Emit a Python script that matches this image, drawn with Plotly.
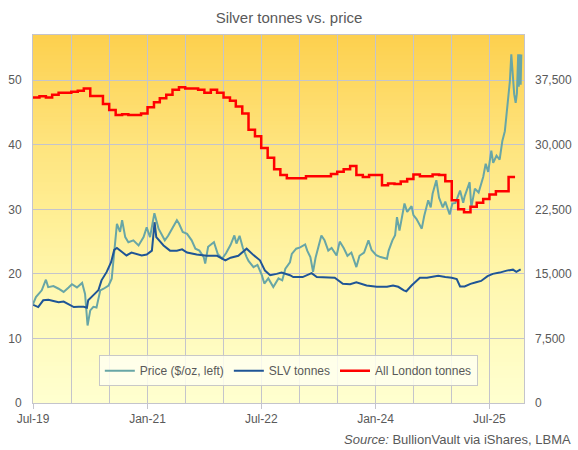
import plotly.graph_objects as go

# silver price, $/oz (left axis)
price_dates = [
    "2019-07-01", "2019-07-15", "2019-08-12", "2019-09-01", "2019-09-12", "2019-10-07",
    "2019-11-01", "2019-11-25", "2019-12-19", "2020-01-04", "2020-01-28", "2020-02-22",
    "2020-03-07", "2020-03-19", "2020-04-01", "2020-04-16", "2020-05-01", "2020-05-19",
    "2020-06-04", "2020-06-28", "2020-07-13", "2020-07-25", "2020-08-07", "2020-08-22",
    "2020-09-01", "2020-09-16", "2020-10-01", "2020-10-25", "2020-11-19", "2020-12-13",
    "2020-12-28", "2021-01-13", "2021-02-03", "2021-02-23", "2021-03-10", "2021-03-25",
    "2021-04-10", "2021-05-07", "2021-05-22", "2021-06-01", "2021-06-19", "2021-07-10",
    "2021-08-01", "2021-08-19", "2021-09-07", "2021-09-28", "2021-10-05", "2021-10-19",
    "2021-11-16", "2021-12-04", "2021-12-25", "2022-01-13", "2022-02-04", "2022-02-22",
    "2022-03-04", "2022-03-19", "2022-04-04", "2022-04-22", "2022-05-01", "2022-05-25",
    "2022-06-13", "2022-07-04", "2022-07-16", "2022-08-04", "2022-08-28", "2022-09-22",
    "2022-10-10", "2022-10-25", "2022-11-16", "2022-11-25", "2022-12-16", "2023-01-04",
    "2023-01-28", "2023-02-07", "2023-02-22", "2023-03-07", "2023-03-19", "2023-04-16",
    "2023-05-01", "2023-05-19", "2023-06-04", "2023-06-28", "2023-07-13", "2023-08-01",
    "2023-08-19", "2023-09-07", "2023-10-01", "2023-10-16", "2023-11-07", "2023-11-28",
    "2023-12-13", "2024-01-04", "2024-01-25", "2024-02-25", "2024-03-04", "2024-03-22",
    "2024-04-04", "2024-04-13", "2024-04-25", "2024-05-19", "2024-06-01", "2024-06-22",
    "2024-07-01", "2024-07-16", "2024-08-10", "2024-08-22", "2024-09-10", "2024-09-22",
    "2024-10-01", "2024-10-19", "2024-11-01", "2024-11-19", "2024-12-01", "2024-12-22",
    "2025-01-04", "2025-01-19", "2025-02-10", "2025-02-25", "2025-03-04", "2025-03-28",
    "2025-04-05", "2025-04-22", "2025-05-10", "2025-06-01", "2025-06-13", "2025-06-25",
    "2025-07-10", "2025-07-19", "2025-08-04", "2025-08-19", "2025-09-01", "2025-09-13",
    "2025-09-20", "2025-09-28", "2025-10-07", "2025-10-14", "2025-10-22", "2025-10-28",
    "2025-11-04", "2025-11-10", "2025-11-16", "2025-11-19", "2025-11-23", "2025-11-28",
    "2025-12-01",
]
price = [
    15.3, 16.4, 17.45, 19.1, 17.95, 18.1,
    17.7, 17.2, 17.9, 18.4, 17.9, 18.6,
    16.9, 12.0, 14.35, 14.9, 14.8, 17.45,
    17.7, 18.2, 19.25, 23.6, 27.75, 26.5,
    28.3, 25.7, 24.9, 25.2, 24.4, 25.7,
    27.2, 25.7, 29.4, 27.0, 26.0, 25.2,
    25.9, 27.5, 28.3, 27.8, 26.5, 26.2,
    25.2, 23.9, 23.6, 22.6, 21.6, 24.2,
    24.9, 23.1, 22.35, 23.2, 24.5, 25.95,
    24.7, 25.9, 24.0, 22.6, 22.0, 21.05,
    21.4, 19.8, 18.5, 19.3, 17.95, 19.3,
    19.0, 20.8, 21.8, 23.1, 23.9, 24.1,
    24.55, 23.6, 22.6, 20.3, 22.5, 25.95,
    25.2, 23.6, 24.0, 22.85, 25.0, 24.0,
    22.8, 23.3, 21.05, 22.8, 23.3, 25.2,
    23.7, 22.9, 22.6, 22.35, 23.6, 25.2,
    26.0, 28.8, 26.7, 30.9, 29.6, 30.5,
    29.1, 28.5, 27.0, 29.0, 31.4, 30.3,
    32.4, 34.5, 31.8, 30.3, 31.2, 29.2,
    30.9, 31.0, 32.9, 31.0, 32.0, 34.2,
    30.3, 33.2, 32.6, 35.0, 37.05, 35.8,
    39.1, 37.2, 38.3, 37.7, 40.6, 42.1,
    44.2, 46.75, 49.8, 54.0, 50.4, 47.8,
    46.5, 48.0, 54.0, 49.0, 54.0, 49.3,
    54.0,
]

# SLV trust holdings, tonnes (right axis)
slv_dates = [
    "2019-07-02", "2019-07-26", "2019-08-19", "2019-09-13", "2019-10-07", "2019-11-01",
    "2019-11-25", "2019-12-19", "2020-01-13", "2020-02-05", "2020-03-01", "2020-03-16",
    "2020-03-22", "2020-04-16", "2020-05-10", "2020-05-25", "2020-06-19", "2020-07-10",
    "2020-07-25", "2020-08-07", "2020-09-01", "2020-09-22", "2020-10-16", "2020-11-10",
    "2020-12-04", "2020-12-28", "2021-01-22", "2021-02-04", "2021-02-12", "2021-03-19",
    "2021-04-19", "2021-05-22", "2021-06-16", "2021-07-10", "2021-08-25", "2021-10-13",
    "2021-12-01", "2022-01-10", "2022-02-04", "2022-03-13", "2022-04-22", "2022-05-25",
    "2022-06-25", "2022-07-19", "2022-08-13", "2022-09-13", "2022-10-07", "2022-11-16",
    "2022-12-02", "2023-01-16", "2023-02-28", "2023-03-25", "2023-04-28", "2023-05-25",
    "2023-06-19", "2023-07-28", "2023-09-01", "2023-10-01", "2023-11-19", "2024-01-07",
    "2024-02-25", "2024-03-25", "2024-04-19", "2024-05-16", "2024-05-28", "2024-06-22",
    "2024-07-10", "2024-08-01", "2024-09-04", "2024-10-01", "2024-10-28", "2024-12-01",
    "2025-01-01", "2025-01-25", "2025-02-10", "2025-03-04", "2025-04-01", "2025-04-28",
    "2025-05-22", "2025-06-22", "2025-07-17", "2025-08-19", "2025-09-22", "2025-10-22",
    "2025-11-07", "2025-11-28",
]
slv_tonnes = [
    11400, 11140, 11930, 12000, 11850, 11700,
    11780, 11440, 11140, 11180, 11180, 11060,
    11930, 12530, 13090, 14250, 15230, 16350,
    17780, 18000, 17480, 17140, 17480, 17330,
    17140, 17250, 17700, 21000, 19280, 18300,
    17700, 17700, 17850, 17480, 17250, 17100,
    17100, 16580, 16880, 17100, 17930, 17180,
    16580, 15380, 14850, 15000, 15150, 14850,
    14630, 14630, 15080, 14630, 14630, 14630,
    14550, 13840, 13800, 14030, 13650, 13500,
    13500, 13650, 13500, 13090, 12980, 13650,
    14030, 14550, 14550, 14630, 14780, 14630,
    14550, 14400, 13540, 13540, 13840, 14030,
    14180, 14740, 15000, 15150, 15380, 15490,
    15230, 15530,
]

# LBMA London vaults, monthly, tonnes (right axis)
london_months = [
    "2019-07", "2019-08", "2019-09", "2019-10", "2019-11", "2019-12",
    "2020-01", "2020-02", "2020-03", "2020-04", "2020-05", "2020-06",
    "2020-07", "2020-08", "2020-09", "2020-10", "2020-11", "2020-12",
    "2021-01", "2021-02", "2021-03", "2021-04", "2021-05", "2021-06",
    "2021-07", "2021-08", "2021-09", "2021-10", "2021-11", "2021-12",
    "2022-01", "2022-02", "2022-03", "2022-04", "2022-05", "2022-06",
    "2022-07", "2022-08", "2022-09", "2022-10", "2022-11", "2022-12",
    "2023-01", "2023-02", "2023-03", "2023-04", "2023-05", "2023-06",
    "2023-07", "2023-08", "2023-09", "2023-10", "2023-11", "2023-12",
    "2024-01", "2024-02", "2024-03", "2024-04", "2024-05", "2024-06",
    "2024-07", "2024-08", "2024-09", "2024-10", "2024-11", "2024-12",
    "2025-01", "2025-02", "2025-03", "2025-04", "2025-05", "2025-06",
    "2025-07", "2025-08", "2025-09", "2025-10", "2025-11",
]
london_tonnes = [
    35480, 35630, 35480, 35810, 36050, 36050,
    36150, 36280, 36530, 35660, 35660, 34730,
    34050, 33450, 33530, 33450, 33450, 33640,
    34350, 34950, 35400, 35810, 36380, 36680,
    36530, 36530, 36380, 36050, 36380, 36050,
    35480, 35100, 34430, 33640, 31730, 30980,
    29630, 28500, 27150, 26480, 26100, 26100,
    26100, 26330, 26330, 26330, 26330, 26590,
    26850, 27150, 27530, 26480, 26250, 26480,
    26480, 25310, 25500, 25430, 25730, 26030,
    26550, 26330, 26330, 26550, 26480, 25760,
    23550, 22500, 22160, 22800, 23250, 23700,
    24230, 24600, 24600, 26250, 26250,
]

grid_dates = ["2019-07-01", "2020-01-01", "2020-07-01", "2021-01-01", "2021-07-01",
              "2022-01-01", "2022-07-01", "2023-01-01", "2023-07-01", "2024-01-01",
              "2024-07-01", "2025-01-01", "2025-07-01"]
label_dates = grid_dates[::3]
label_text = ["Jul-19", "Jan-21", "Jul-22", "Jan-24", "Jul-25"]

grey = "#595959"
gridc = "#C4C4CC"

fig = go.Figure()
fig.add_trace(go.Scatter(x=price_dates, y=price, name="Price ($/oz, left)",
                         mode="lines", line=dict(color="#68A6A6", width=2)))
fig.add_trace(go.Scatter(x=slv_dates, y=slv_tonnes, name="SLV tonnes", yaxis="y2",
                         mode="lines", line=dict(color="#1F5596", width=2)))
fig.add_trace(go.Scatter(x=london_months, y=london_tonnes, name="All London tonnes",
                         yaxis="y2", mode="lines", line_shape="hv",
                         line=dict(color="#FF0000", width=2.5)))

# yellow gradient background, built from thin strips
stops = [(0.0, (255, 255, 208)), (0.3, (255, 248, 178)), (0.5, (255, 239, 150)),
         (0.7, (254, 228, 126)), (1.0, (253, 208, 78))]


def bg_color(t):
    for (a, ca), (b, cb) in zip(stops[:-1], stops[1:]):
        if a <= t <= b:
            f = (t - a) / (b - a)
            return "rgb(%d,%d,%d)" % tuple(round(ca[i] + f * (cb[i] - ca[i])) for i in range(3))
    return "rgb(253,208,78)"


n = 90
for i in range(n):
    fig.add_shape(type="rect", xref="x domain", yref="y domain",
                  x0=0, x1=1, y0=i / n, y1=(i + 1.6) / n if i < n - 1 else 1,
                  fillcolor=bg_color((i + 0.5) / n), line_width=0, layer="below")

fig.update_layout(
    width=578, height=450,
    margin=dict(l=33, r=54, t=35, b=47),
    paper_bgcolor="white", plot_bgcolor="white",
    font=dict(family="Liberation Sans, Arial, sans-serif", size=12, color=grey),
    title=dict(text="Silver tonnes vs. price", x=0.5, xanchor="center",
               y=0.96, yanchor="middle", font=dict(size=15, color=grey)),
    xaxis=dict(range=["2019-07-01", "2025-12-14"], tickmode="array",
               tickvals=label_dates, ticktext=label_text,
               ticks="outside", ticklen=5, tickcolor=gridc,
               showgrid=True, gridcolor=gridc,
               minor=dict(tickmode="array", tickvals=grid_dates, showgrid=True,
                          gridcolor=gridc, ticks=""),
               showline=True, linecolor=gridc, mirror=True, zeroline=False,
               automargin=False),
    yaxis=dict(range=[0, 57], dtick=10, showgrid=True, gridcolor=gridc,
               showline=True, linecolor=gridc, mirror=True, zeroline=False,
               ticks="", ticklabelstandoff=8, automargin=False),
    yaxis2=dict(range=[0, 42750], dtick=7500, tickformat=",", overlaying="y",
                side="right", showgrid=False, zeroline=False, ticks="",
                ticklabelstandoff=10, automargin=False),
    legend=dict(orientation="h", x=0.52, xanchor="center", y=0.13, yanchor="top",
                bgcolor="rgba(255,255,240,0.85)", bordercolor="#C8C8C8", borderwidth=1,
                font=dict(size=12, color=grey), itemwidth=30,
                traceorder="normal"),
    showlegend=True,
)

fig.add_annotation(text="<i>Source:</i> BullionVault via iShares, LBMA",
                   xref="paper", yref="paper", x=1.1, y=-0.1,
                   xanchor="right", yanchor="middle", showarrow=False,
                   font=dict(size=13, color=grey))

# the page body has a default 8px margin; drop it so the figure fills the window
fig.write_html("out.html", config={"displayModeBar": False},
               post_script="document.body.style.margin='0';")
